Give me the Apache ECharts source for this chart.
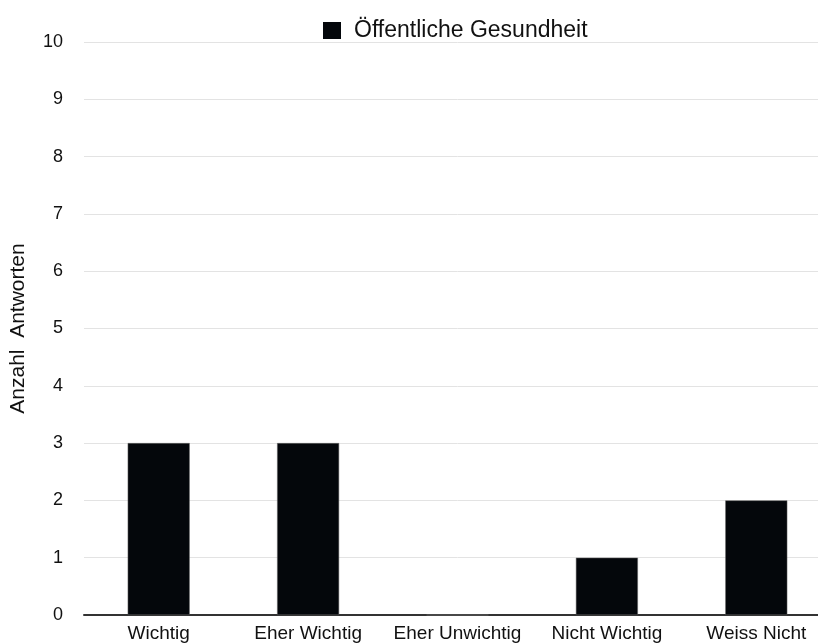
<!DOCTYPE html>
<html>
<head>
<meta charset="utf-8">
<script src="https://cdn.jsdelivr.net/npm/echarts@6/dist/echarts.min.js"></script>
<style>
  html, body { margin: 0; padding: 0; background: #fff; overflow: hidden; }
  #chart { width: 831px; height: 644px; }
</style>
</head>
<body>
<div id="chart"></div>
<script>
const categories = ['Wichtig', 'Eher Wichtig', 'Eher Unwichtig', 'Nicht Wichtig', 'Weiss Nicht'];
const seriesName = 'Öffentliche Gesundheit';
const values = [3, 3, 0, 1, 2];
const yTicks = { min: 0, max: 10, interval: 1 };
const yAxisName = 'Anzahl  Antworten';

const font = '"Liberation Sans", Arial, Helvetica, sans-serif';

const chart = echarts.init(document.getElementById('chart'));
chart.setOption({
  animation: false,
  textStyle: { fontFamily: font },
  legend: {
    data: [seriesName],
    left: 323,
    top: 19,
    padding: 0,
    itemWidth: 18,
    itemHeight: 17,
    icon: 'rect',
    itemStyle: { borderWidth: 0 },
    textStyle: { fontSize: 23, color: '#111', fontFamily: font, padding: [0, 0, 0, 8] }
  },
  grid: { left: 84, top: 42, right: 0, height: 573, containLabel: false },
  xAxis: {
    type: 'category',
    data: categories,
    axisTick: { show: false },
    axisLine: { lineStyle: { color: '#333', width: 2 } },
    axisLabel: { color: '#111', fontSize: 19, margin: 9, fontFamily: font, interval: 0 }
  },
  yAxis: {
    type: 'value',
    min: yTicks.min,
    max: yTicks.max,
    interval: yTicks.interval,
    name: yAxisName,
    nameLocation: 'middle',
    nameGap: 55,
    nameRotate: 90,
    nameTextStyle: { fontSize: 21, color: '#111', fontFamily: font },
    axisLine: { show: false },
    axisTick: { show: false },
    axisLabel: { color: '#111', fontSize: 18, margin: 21, fontFamily: font },
    splitLine: { lineStyle: { color: '#e3e3e3', width: 1 } }
  },
  series: [{
    name: seriesName,
    type: 'bar',
    data: values,
    barWidth: 62,
    itemStyle: { color: '#04070b', borderColor: '#666', borderWidth: 0.5 }
  }]
});
</script>
</body>
</html>
